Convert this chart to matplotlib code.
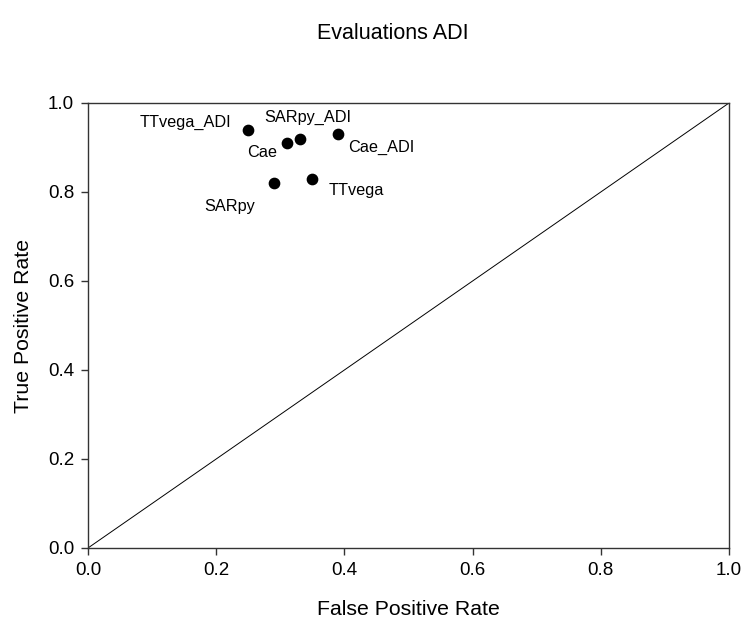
import matplotlib
matplotlib.use("Agg")
import matplotlib.pyplot as plt

plt.rcParams['font.family'] = ['Liberation Sans', 'DejaVu Sans']

names = ["TTvega_ADI", "Cae", "SARpy_ADI", "Cae_ADI", "SARpy", "TTvega"]
fpr = [0.25, 0.31, 0.33, 0.39, 0.29, 0.35]
tpr = [0.94, 0.91, 0.92, 0.93, 0.82, 0.83]
# label offsets in points (dx, dy) and alignment
offsets = {
    "TTvega_ADI": (-12, 5, "right"),
    "Cae": (-17.5, -7, "center"),
    "SARpy_ADI": (6, 15.5, "center"),
    "Cae_ADI": (7, -9.4, "left"),
    "SARpy": (-31.7, -17, "center"),
    "TTvega": (11.5, -8.2, "left"),
}

fig = plt.figure(figsize=(7.42, 6.23), dpi=100)
ax = fig.add_axes([0.1186, 0.1204, 0.8639, 0.7143])

ax.plot([0, 1], [0, 1], color="black", lw=0.7)
ax.scatter(fpr, tpr, s=55, color="black", zorder=3)
for n, x, y in zip(names, fpr, tpr):
    dx, dy, ha = offsets[n]
    ax.annotate(n, (x, y), xytext=(dx, dy), textcoords="offset points",
                ha=ha, va="center", fontsize=11.7)

ax.set_xlim(0, 1)
ax.set_ylim(0, 1)
ticks = [0.0, 0.2, 0.4, 0.6, 0.8, 1.0]
ax.set_xticks(ticks)
ax.set_yticks(ticks)
ax.set_xticklabels([f"{t:.1f}" for t in ticks])
ax.set_yticklabels([f"{t:.1f}" for t in ticks])
ax.tick_params(direction="out", length=5, width=1, labelsize=13.5, color="#333333", pad=5)
for s in ax.spines.values():
    s.set_color("#333333")
    s.set_linewidth(1)

ax.set_xlabel("False Positive Rate", fontsize=15.3, labelpad=15)
ax.set_ylabel("True Positive Rate", fontsize=15.3, labelpad=11)
fig.text(0.530, 0.947, "Evaluations ADI", ha="center", va="center", fontsize=15.5)

fig.savefig("out.png", dpi=100)
